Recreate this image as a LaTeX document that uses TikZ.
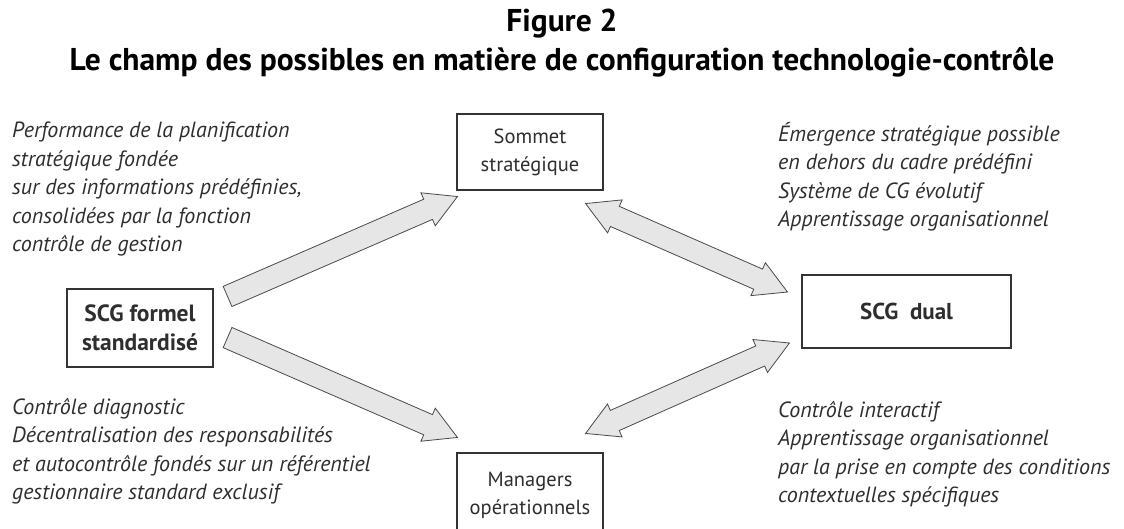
\documentclass[tikz,border=0pt]{standalone}
\usepackage{fontspec}
\setmainfont{PT Sans}
\usetikzlibrary{calc}
\definecolor{arrfill}{HTML}{E6E6E6}
\definecolor{arrline}{HTML}{4A4A4A}
\definecolor{txt}{HTML}{2E2E2E}
\definecolor{boxline}{HTML}{333333}
\def\hw{11pt}\def\hh{18pt}\def\hl{32pt}
\newcommand\singlearr[2]{%
  \coordinate (nB) at ($(#2)!\hl!(#1)$);
  \draw[blk] ($(#1)!\hw!90:(#2)$) -- ($(nB)!\hw!90:(#2)$) -- ($(nB)!\hh!90:(#2)$) -- (#2)
    -- ($(nB)!\hh!-90:(#2)$) -- ($(nB)!\hw!-90:(#2)$) -- ($(#1)!\hw!-90:(#2)$) -- cycle;}
\newcommand\doublearr[2]{%
  \coordinate (nA) at ($(#1)!\hl!(#2)$);
  \coordinate (nB) at ($(#2)!\hl!(#1)$);
  \draw[blk] (#1) -- ($(nA)!\hh!90:(#2)$) -- ($(nA)!\hw!90:(#2)$) -- ($(nB)!\hw!90:(#2)$)
    -- ($(nB)!\hh!90:(#2)$) -- (#2) -- ($(nB)!\hh!-90:(#2)$) -- ($(nB)!\hw!-90:(#2)$)
    -- ($(nA)!\hw!-90:(#2)$) -- ($(nA)!\hh!-90:(#2)$) -- cycle;}
\tikzset{
  blk/.style={fill=arrfill, draw=arrline, line width=0.8pt, line join=miter},
  box/.style={draw=boxline, line width=1.1pt, align=center, inner sep=0pt,
    text=txt, font=\fontsize{20.5}{28}\selectfont},
  note/.style={align=left, inner sep=0pt, anchor=north west, text=txt,
    font=\fontsize{22}{28.5}\selectfont\itshape},
  ttl/.style={anchor=base, inner sep=0pt, font=\bfseries\fontsize{31.5}{36}\selectfont}
}
\begin{document}
\begin{tikzpicture}[x=1pt,y=-1pt]
\useasboundingbox (0,0) rectangle (1124,528);
\clip (0,0) rectangle (1124,528);
\node[ttl] (fig) at (562,31) {Figure 2};
\node[ttl] (ttl) at (562,70) {Le champ des possibles en matière de configuration technologie-contrôle};

\node[box, minimum width=146pt, minimum height=76pt] (somm) at (530,152) {Sommet\\stratégique};
\node[box, minimum width=209pt, minimum height=73pt, font=\bfseries\fontsize{23}{28}\selectfont] (dual) at (906.5,311.5) {SCG\ \ dual};
\node[box, minimum width=146pt, minimum height=78pt, font=\bfseries\fontsize{23.5}{29}\selectfont] (formel) at (140,328) {SCG formel\\standardisé};
\node[box, minimum width=146pt, minimum height=84pt] (mgr) at (530,495) {Managers\\opérationnels};

\node[note] (t1) at (12,122) {Performance de la planification\\stratégique fondée\\sur des informations prédéfinies,\\consolidées par la fonction\\contrôle de gestion};
\node[note] (t2) at (778,122) {Émergence stratégique possible\\en dehors du cadre prédéfini\\Système de CG évolutif\\Apprentissage organisationnel};
\node[note] (t3) at (12,398) {Contrôle diagnostic\\Décentralisation des responsabilités\\et autocontrôle fondés sur un référentiel\\gestionnaire standard exclusif};
\node[note] (t4) at (778,401) {Contrôle interactif\\Apprentissage organisationnel\\par la prise en compte des conditions\\contextuelles spécifiques};

\coordinate (a1s) at ($(formel.north east)+(14,8)$);
\coordinate (a1e) at ($(somm.south west)+(1,6)$);
\coordinate (a2s) at ($(formel.south east)+(14,-30)$);
\coordinate (a2e) at ($(mgr.north west)+(1,-15)$);
\coordinate (a3s) at ($(somm.south east)+(-18,13)$);
\coordinate (a3e) at ($(dual.west)+(-14,-19.5)$);
\coordinate (a4s) at ($(mgr.north east)+(-18,-19)$);
\coordinate (a4e) at ($(dual.west)+(-12,31.5)$);
\singlearr{a1s}{a1e}
\singlearr{a2s}{a2e}
\doublearr{a3s}{a3e}
\doublearr{a4s}{a4e}
\end{tikzpicture}
\end{document}
